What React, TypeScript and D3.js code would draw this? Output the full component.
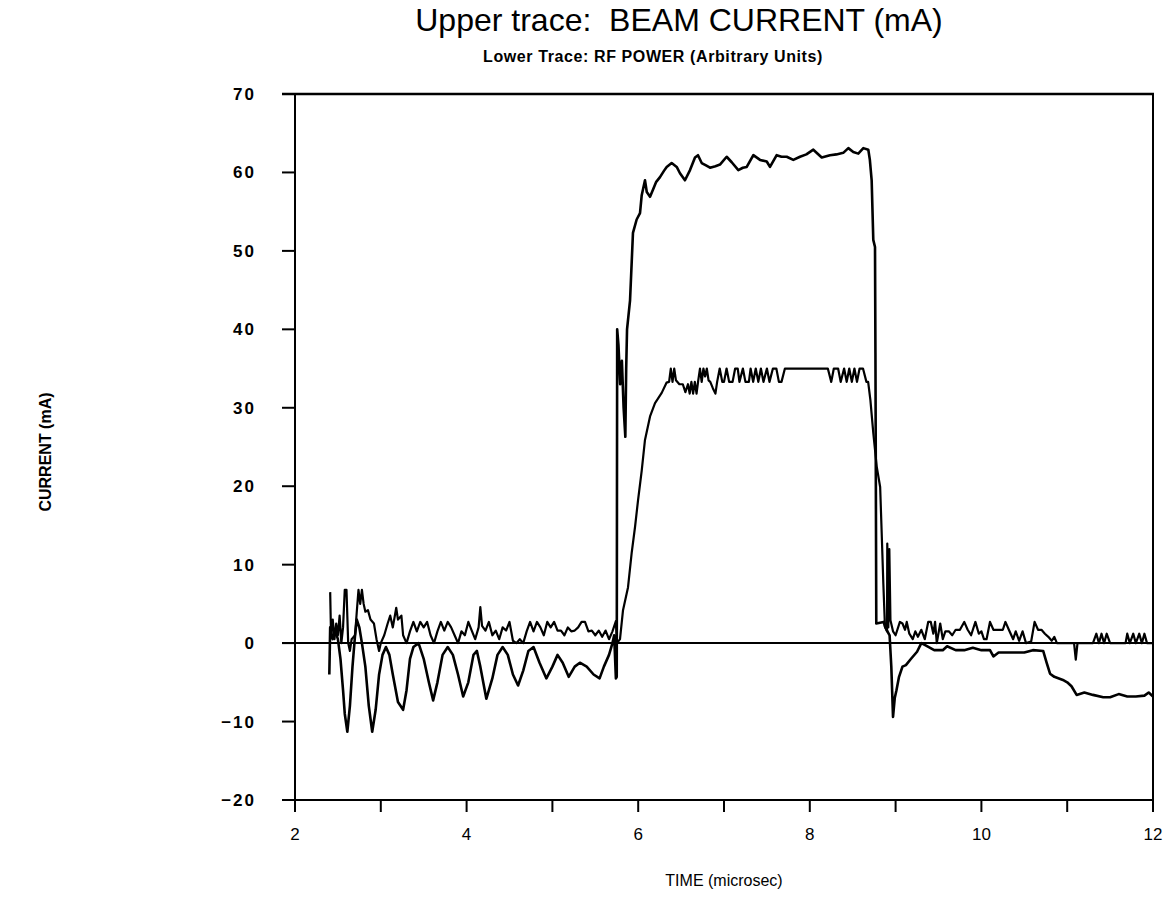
import React from 'react';
import * as d3 from 'd3';

const titleText = 'Upper trace:  BEAM CURRENT (mA)';
const subtitleText = 'Lower Trace: RF POWER (Arbitrary Units)';
const xAxisTitle = 'TIME (microsec)';
const yAxisTitle = 'CURRENT (mA)';

const xTicks = [2, 3, 4, 5, 6, 7, 8, 9, 10, 11, 12];
const xTickLabels = [2, 4, 6, 8, 10, 12];
const yTicks = [70, 60, 50, 40, 30, 20, 10, 0, -10, -20];

// Upper trace: beam current (time in microsec, current in mA)
const beamCurrent: [number, number][] = [
  [2.40, -4.0], [2.41, 2.0], [2.44, 0.5], [2.47, 1.5], [2.50, 0.5], [2.53, -2], [2.56, -6], [2.58, -9],
  [2.61, -11.3], [2.64, -8], [2.67, -3], [2.70, 1], [2.72, 3], [2.75, 2], [2.78, 0], [2.82, -3],
  [2.86, -8], [2.90, -11.3], [2.94, -8.5], [2.98, -4], [3.02, -1.5], [3.06, -0.5], [3.10, -1.5],
  [3.14, -4], [3.20, -7.5], [3.26, -8.5], [3.30, -6], [3.34, -2], [3.38, -0.5], [3.44, 0], [3.50, -2],
  [3.56, -5], [3.61, -7.3], [3.66, -5], [3.72, -1.5], [3.78, -0.5], [3.84, -1.5], [3.90, -4],
  [3.96, -6.8], [4.02, -5], [4.08, -1.5], [4.12, -1], [4.16, -3], [4.23, -7.1], [4.30, -4.5],
  [4.36, -1.5], [4.42, -0.5], [4.48, -1.5], [4.54, -4], [4.60, -5.4], [4.66, -3.5], [4.72, -1],
  [4.78, -0.5], [4.85, -2.5], [4.93, -4.5], [5.00, -3], [5.06, -1.5], [5.12, -2.5], [5.19, -4.3],
  [5.26, -3], [5.32, -2.5], [5.40, -3], [5.48, -4], [5.55, -4.5], [5.60, -3], [5.66, -1.5],
  [5.70, 0], [5.72, 1.0], [5.74, -4.5], [5.75, -4.3], [5.755, 40], [5.77, 38], [5.79, 33],
  [5.81, 36], [5.83, 30], [5.85, 26.3], [5.86, 35], [5.87, 40], [5.905, 43.7], [5.924, 48.5],
  [5.939, 52.3], [5.982, 54], [6.021, 54.8], [6.041, 57.1], [6.079, 59], [6.10, 57.5],
  [6.138, 56.9], [6.172, 57.8], [6.21, 58.8], [6.254, 59.4], [6.30, 60.2], [6.332, 60.7],
  [6.390, 61.2], [6.449, 60.7], [6.487, 59.9], [6.545, 59], [6.604, 60.3], [6.662, 61.9],
  [6.697, 62.2], [6.740, 61.2], [6.79, 60.9], [6.837, 60.6], [6.90, 60.8], [6.953, 61],
  [7.031, 62], [7.090, 61.3], [7.167, 60.3], [7.22, 60.6], [7.265, 60.7], [7.342, 62.2],
  [7.420, 61.6], [7.498, 61.4], [7.536, 60.7], [7.614, 62.2], [7.67, 62.0], [7.731, 62],
  [7.808, 61.6], [7.886, 62], [7.96, 62.3], [8.041, 62.9], [8.139, 61.9], [8.235, 62.2],
  [8.31, 62.3], [8.390, 62.5], [8.449, 63.1], [8.507, 62.6], [8.565, 62.4], [8.624, 63.1],
  [8.682, 62.9], [8.70, 61.6], [8.721, 59], [8.740, 51.4], [8.76, 50.5], [8.765, 37],
  [8.775, 2.5], [8.86, 2.7], [8.88, 2.0], [8.93, 1.0], [8.95, -3], [8.97, -9.4], [8.99, -7],
  [9.01, -6], [9.04, -4.3], [9.08, -3], [9.12, -2.8], [9.18, -2], [9.25, -1.1], [9.30, 0],
  [9.35, -0.3], [9.45, -0.9], [9.55, -0.9], [9.60, -0.4], [9.70, -0.9], [9.80, -0.9],
  [9.90, -0.6], [10.00, -0.9], [10.10, -0.9], [10.14, -1.7], [10.20, -1.2], [10.35, -1.2],
  [10.50, -1.2], [10.60, -0.9], [10.72, -1.0], [10.76, -2.5], [10.80, -3.9], [10.85, -4.3],
  [10.95, -4.7], [11.00, -5.0], [11.05, -5.5], [11.11, -6.6], [11.20, -6.3], [11.30, -6.6],
  [11.42, -6.9], [11.50, -6.9], [11.60, -6.5], [11.70, -6.8], [11.80, -6.8], [11.90, -6.7],
  [11.95, -6.3], [12.00, -6.8],
];

// Lower trace: RF power (arbitrary units)
const rfPower: [number, number][] = [
  [2.41, 6.5], [2.42, 1], [2.44, 3], [2.46, 0.5], [2.48, 2.5], [2.50, 1], [2.52, 3.5], [2.54, 0],
  [2.56, 2], [2.58, 6.8], [2.60, 6.8], [2.62, 0], [2.64, -1], [2.66, 0.5], [2.70, 1], [2.72, 4],
  [2.74, 6.8], [2.76, 5], [2.78, 6.8], [2.80, 5], [2.82, 4], [2.85, 4.2], [2.88, 3], [2.92, 2.5],
  [2.95, 0.5], [2.98, -1], [3.00, 0], [3.04, 1], [3.08, 2.5], [3.11, 3.5], [3.14, 2], [3.18, 4.5],
  [3.20, 3], [3.24, 3.5], [3.26, 1], [3.30, 0], [3.34, 1.5], [3.38, 2.7], [3.42, 1.5], [3.46, 2.7],
  [3.50, 2], [3.54, 2.7], [3.58, 1], [3.62, 0], [3.66, 1.5], [3.70, 2.7], [3.74, 1.6], [3.78, 2.7],
  [3.82, 2], [3.86, 1], [3.90, 0], [3.94, 1.5], [3.98, 1], [4.02, 2.7], [4.06, 1.6], [4.10, 0.5],
  [4.14, 2], [4.16, 4.6], [4.18, 2.2], [4.22, 1.6], [4.26, 2.7], [4.30, 1], [4.34, 1.6], [4.38, 0.5],
  [4.42, 2], [4.46, 1.6], [4.50, 2.7], [4.54, 0.3], [4.58, 0], [4.62, 0.5], [4.66, 0], [4.70, 1.5],
  [4.74, 2.7], [4.78, 1.5], [4.82, 2.7], [4.86, 2], [4.90, 1], [4.94, 2.7], [4.98, 2], [5.02, 2.7],
  [5.06, 1.6], [5.10, 1.6], [5.14, 1], [5.18, 2], [5.22, 1.5], [5.26, 1.6], [5.30, 2], [5.34, 2.7],
  [5.38, 2.7], [5.42, 1.5], [5.46, 1.6], [5.50, 1.0], [5.54, 1.6], [5.58, 0.8], [5.62, 1.6],
  [5.66, 0.5], [5.70, 1.5], [5.74, 2.8], [5.753, 0], [5.788, 0.5], [5.823, 4.2], [5.881, 7.1],
  [5.924, 11.5], [5.963, 14.8], [5.998, 18.2], [6.041, 22], [6.079, 25.9], [6.138, 28.9],
  [6.196, 30.6], [6.274, 31.9], [6.33, 33.2], [6.36, 33.3], [6.38, 35], [6.40, 33.3], [6.42, 35],
  [6.44, 33.5], [6.48, 33.0], [6.52, 33.0], [6.55, 32.0], [6.58, 33.0], [6.60, 31.8], [6.62, 33.3],
  [6.64, 31.8], [6.66, 33.3], [6.68, 31.8], [6.70, 33.5], [6.72, 35], [6.74, 33.3], [6.76, 35],
  [6.78, 34], [6.80, 35], [6.82, 33.5], [6.84, 33.3], [6.87, 32.5], [6.90, 31.8], [6.92, 33.3],
  [6.95, 35], [6.98, 33.3], [7.00, 33.3], [7.03, 35], [7.06, 33.3], [7.10, 33.3], [7.13, 35],
  [7.16, 35], [7.18, 33.3], [7.22, 35], [7.25, 33.3], [7.29, 33.3], [7.31, 35], [7.34, 33.3],
  [7.37, 35], [7.40, 33.3], [7.43, 35], [7.46, 33.3], [7.50, 35], [7.53, 33.3], [7.57, 35],
  [7.61, 35], [7.64, 33.3], [7.67, 33.3], [7.71, 35], [8.21, 35], [8.25, 33.3], [8.28, 35],
  [8.33, 35], [8.36, 33.3], [8.40, 35], [8.43, 33.3], [8.46, 35], [8.49, 33.3], [8.52, 35],
  [8.55, 33.3], [8.58, 35], [8.62, 35], [8.66, 33.3], [8.68, 33.3], [8.706, 31], [8.74, 26.8],
  [8.78, 22.5], [8.82, 19.9], [8.838, 14], [8.857, 7.6], [8.876, 2.1], [8.90, 1.5], [8.903, 12.7],
  [8.915, 2.0], [8.927, 12.0], [8.94, 2.9], [8.97, 1.5], [9.00, 1], [9.05, 2.7], [9.08, 2.5],
  [9.11, 1.7], [9.13, 2.7], [9.16, 1.2], [9.20, 0.5], [9.23, 1.5], [9.26, 0.8], [9.30, 1.7],
  [9.34, 0.5], [9.38, 2.7], [9.41, 2.7], [9.44, 1.2], [9.46, 2.7], [9.48, 0], [9.52, 2.5],
  [9.55, 0.5], [9.58, 1.5], [9.62, 1.5], [9.66, 1.0], [9.70, 1.7], [9.75, 1.7], [9.80, 2.7],
  [9.84, 1.7], [9.88, 1.0], [9.93, 2.7], [9.97, 1.2], [10.00, 1.5], [10.03, 0.5], [10.06, 0.5],
  [10.10, 2.7], [10.14, 1.7], [10.20, 1.7], [10.25, 1.7], [10.28, 2.7], [10.32, 1.7], [10.37, 0.5],
  [10.40, 1.5], [10.44, 0.3], [10.48, 1.5], [10.52, 0], [10.58, 0.2], [10.62, 2.7], [10.66, 1.7],
  [10.70, 1.7], [10.74, 1.2], [10.78, 0.8], [10.82, 0.3], [10.85, 0.8], [10.88, 0], [11.00, 0],
  [11.08, 0], [11.10, -2.1], [11.12, 0], [11.20, 0], [11.30, 0], [11.34, 1.2], [11.37, 0],
  [11.40, 1.2], [11.43, 0], [11.46, 1.2], [11.50, 0], [11.60, 0], [11.68, 0], [11.70, 1.2],
  [11.73, 0], [11.77, 1.2], [11.80, 0], [11.84, 1.2], [11.87, 0], [11.90, 1.2], [11.93, 0],
  [12.00, 0],
];

export default function App() {
  const W = 1170;
  const H = 901;
  const x = d3.scaleLinear().domain([2, 12]).range([295, 1153]);
  const y = d3.scaleLinear().domain([-20, 70]).range([800, 94]);
  const line = d3
    .line<[number, number]>()
    .x((d) => x(d[0]))
    .y((d) => y(d[1]));

  const fmt = (v: number) => (v < 0 ? '\u2212' + Math.abs(v) : String(v));
  const x0 = x.range()[0];
  const x1 = x.range()[1];
  const yTop = y(70);
  const yBot = y(-20);

  return (
    <svg
      width={W}
      height={H}
      style={{ position: 'absolute', left: 0, top: 0, background: '#fff' }}
      fontFamily="'Liberation Sans', Arial, sans-serif"
    >
      <rect x={0} y={0} width={W} height={H} fill="#fff" />
      <text x={679} y={31} fontSize={32} textAnchor="middle" fill="#000" style={{ whiteSpace: 'pre' }}>
        {titleText}
      </text>
      <text x={653} y={62} fontSize={16} fontWeight="bold" letterSpacing={0.6} textAnchor="middle" fill="#000">
        {subtitleText}
      </text>

      {/* frame */}
      <line x1={x0 - 13} x2={x1 + 1} y1={yTop} y2={yTop} stroke="#000" strokeWidth={2.5} />
      <line x1={x1} x2={x1} y1={yTop} y2={yBot} stroke="#000" strokeWidth={2} />
      <line x1={x0} x2={x0} y1={yTop} y2={yBot + 12} stroke="#000" strokeWidth={2} />
      <line x1={x0 - 13} x2={x1} y1={yBot} y2={yBot} stroke="#000" strokeWidth={2} />
      <line x1={x0 - 13} x2={x1} y1={y(0)} y2={y(0)} stroke="#000" strokeWidth={2} />

      {/* y ticks */}
      {yTicks.map((t) => (
        <g key={'y' + t}>
          <line x1={x0 - 13} x2={x0} y1={y(t)} y2={y(t)} stroke="#000" strokeWidth={2} />
          <text
            x={256}
            y={y(t)}
            dy="0.35em"
            textAnchor="end"
            fontSize={17}
            fontWeight="bold"
            letterSpacing={2}
            fill="#000"
          >
            {fmt(t)}
          </text>
        </g>
      ))}

      {/* x ticks */}
      {xTicks.map((t) => (
        <line key={'x' + t} x1={x(t)} x2={x(t)} y1={yBot} y2={yBot + 12} stroke="#000" strokeWidth={2} />
      ))}
      {xTickLabels.map((t) => (
        <text key={'xl' + t} x={x(t)} y={840} textAnchor="middle" fontSize={17} fill="#000">
          {t}
        </text>
      ))}

      <text x={724} y={886} textAnchor="middle" fontSize={16} fill="#000">
        {xAxisTitle}
      </text>
      <text
        transform={`translate(45, 452) rotate(-90)`}
        textAnchor="middle"
        dy="0.35em"
        fontSize={16}
        fontWeight="bold"
        fill="#000"
      >
        {yAxisTitle}
      </text>

      <path d={line(rfPower) ?? ''} fill="none" stroke="#000" strokeWidth={2.2} strokeLinejoin="round" />
      <path d={line(beamCurrent) ?? ''} fill="none" stroke="#000" strokeWidth={2.6} strokeLinejoin="round" />
    </svg>
  );
}
